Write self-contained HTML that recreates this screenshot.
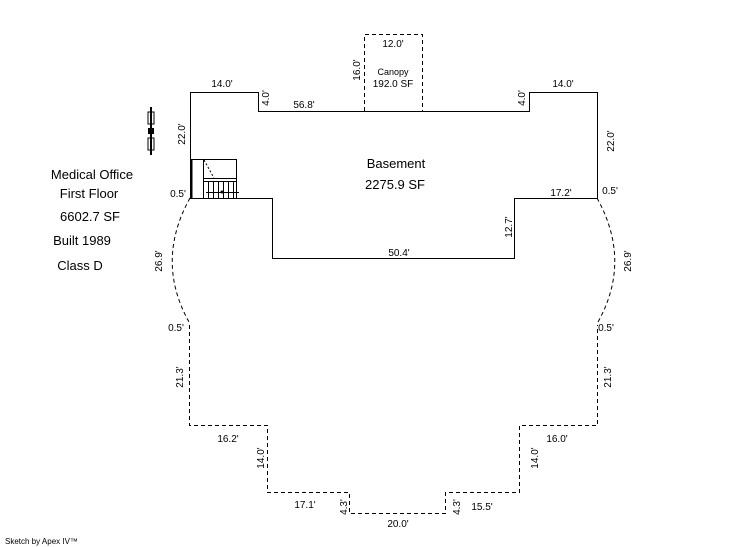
<!DOCTYPE html>
<html><head><style>body{margin:0;background:#fff}svg{display:block}text{font-family:"Liberation Sans",sans-serif;fill:#000}</style></head><body>
<svg width="746" height="547" viewBox="0 0 746 547">
<g fill="none" stroke="#000" stroke-width="1">
<path d="M190.5 92.5H258.5V111.5H529.5V92.5H597.5V198.5H514.5V258.5H272.5V198.5H190.5Z"/>
<g stroke-dasharray="4,3">
<path d="M364.5 111V34.5H422.5V111"/>
<path d="M190 198 Q155 261 189 322"/>
<path d="M597 198 Q632 261 598 322"/>
<path d="M189.5 325V425.5H267.5V492.5H349.5V513.5H445.5V492.5H519.5V425.5H597.5V325"/>
</g>
<rect x="190.5" y="159.5" width="46" height="39"/>
<line x1="203.5" y1="160" x2="203.5" y2="198"/>
<line x1="203" y1="178.5" x2="237" y2="178.5"/>
<line x1="203" y1="181.5" x2="237" y2="181.5"/>
<path d="M208.5 182V198M213.5 182V198M218.5 182V198M223.5 182V198M228.5 182V198M233.5 182V198"/>
<line x1="206" y1="192.5" x2="239" y2="192.5"/>
<path d="M204 160L214 178" stroke-dasharray="2,2"/>
<line x1="191.5" y1="160" x2="191.5" y2="198" stroke-width="2"/>
</g>
<circle cx="222" cy="192" r="1.5"/>
<g stroke="#000" stroke-width="2" fill="none"><line x1="151" y1="107" x2="151" y2="155"/></g>
<rect x="148" y="128" width="6" height="6"/>
<path d="M148 112h6v12h-6zM148 138h6v12h-6z" fill="none" stroke="#000"/>
<g font-size="10" text-anchor="middle">
<text x="222" y="87">14.0'</text>
<text x="563" y="87">14.0'</text>
<text x="393" y="47">12.0'</text>
<text x="393" y="75" font-size="9">Canopy</text>
<text x="393" y="87">192.0 SF</text>
<text x="304" y="108">56.8'</text>
<text x="178" y="197">0.5'</text>
<text x="610" y="194">0.5'</text>
<text x="561" y="196">17.2'</text>
<text x="399" y="256">50.4'</text>
<text x="176" y="331">0.5'</text>
<text x="606" y="331">0.5'</text>
<text x="228" y="442">16.2'</text>
<text x="557" y="442">16.0'</text>
<text x="305" y="508">17.1'</text>
<text x="398" y="527">20.0'</text>
<text x="482" y="510">15.5'</text>
<g transform="rotate(-90)">
<text x="-98" y="269">4.0'</text>
<text x="-98" y="525">4.0'</text>
<text x="-70" y="360">16.0'</text>
<text x="-134" y="185">22.0'</text>
<text x="-141" y="614">22.0'</text>
<text x="-227" y="512">12.7'</text>
<text x="-261" y="162">26.9'</text>
<text x="-261" y="631">26.9'</text>
<text x="-377" y="183">21.3'</text>
<text x="-377" y="611">21.3'</text>
<text x="-458" y="264">14.0'</text>
<text x="-458" y="538">14.0'</text>
<text x="-507" y="347">4.3'</text>
<text x="-507" y="460">4.3'</text>
</g>
</g>
<g font-size="13" text-anchor="middle">
<text x="396" y="168">Basement</text>
<text x="395" y="189">2275.9 SF</text>
<text x="92" y="179">Medical Office</text>
<text x="89" y="198">First Floor</text>
<text x="90" y="221">6602.7 SF</text>
<text x="82" y="245">Built 1989</text>
<text x="80" y="270">Class D</text>
</g>
<text x="5" y="544" font-size="8">Sketch by Apex IV™</text>
</svg>
</body></html>
